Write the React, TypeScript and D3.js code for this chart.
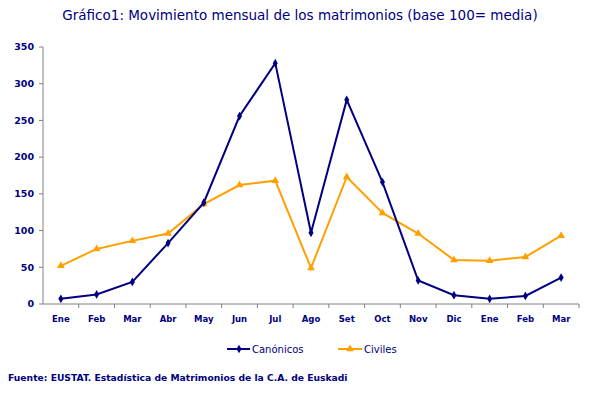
import * as d3 from "d3";

const months = ["Ene", "Feb", "Mar", "Abr", "May", "Jun", "Jul", "Ago", "Set", "Oct", "Nov", "Dic", "Ene", "Feb", "Mar"];
const canonicos = [7, 13, 30, 83, 138, 256, 328, 97, 278, 166, 32, 12, 7, 11, 36];
const civiles = [52, 75, 86, 96, 136, 162, 168, 49, 173, 124, 96, 60, 59, 64, 93];
const yTicks = [0, 50, 100, 150, 200, 250, 300, 350];

const W = 604;
const H = 395;
const MARGIN = { top: 47, right: 25, bottom: 91, left: 43 };
const NAVY = "#000080";
const ORANGE = "#FFA000";
const FONT = "'DejaVu Sans', Verdana, sans-serif";

export default function App() {
  const boundsWidth = W - MARGIN.left - MARGIN.right;
  const boundsHeight = H - MARGIN.top - MARGIN.bottom;

  const idx = months.map((_, i) => String(i));
  const xScale = d3.scaleBand<string>().domain(idx).range([0, boundsWidth]);
  const yScale = d3.scaleLinear().domain([0, 350]).range([boundsHeight, 0]);
  const cx = (i: number) => (xScale(String(i)) || 0) + xScale.bandwidth() / 2;

  const line = d3
    .line<number>()
    .x((_, i) => cx(i))
    .y((d) => yScale(d));

  const diamond = d3.symbol().type(d3.symbolDiamond).size(22)() || "";
  const tri = d3.symbol().type(d3.symbolTriangle).size(26)() || "";

  return (
    <div style={{ position: "fixed", left: 0, top: 0 }}>
      <svg width={W} height={H} style={{ display: "block", background: "#fff" }}>
        <text x={300} y={20} textAnchor="middle" fontFamily={FONT} fontSize={13.5} fill={NAVY}>
          Gráfico1: Movimiento mensual de los matrimonios (base 100= media)
        </text>
        <g transform={`translate(${MARGIN.left},${MARGIN.top})`}>
          {/* y axis */}
          <line x1={0} x2={0} y1={0} y2={boundsHeight} stroke="#808080" />
          {yTicks.map((t) => (
            <g key={t} transform={`translate(0,${yScale(t)})`}>
              <line x1={-4} x2={0} stroke="#808080" />
              <text x={-9} dy="0.35em" textAnchor="end" fontFamily={FONT} fontSize={9.5} fontWeight="bold" fill={NAVY}>
                {t}
              </text>
            </g>
          ))}
          {/* x axis */}
          <line x1={0} x2={boundsWidth} y1={boundsHeight} y2={boundsHeight} stroke="#808080" />
          {months.map((m, i) => (
            <g key={i}>
              <line
                x1={(xScale(String(i)) || 0) + xScale.bandwidth()}
                x2={(xScale(String(i)) || 0) + xScale.bandwidth()}
                y1={boundsHeight}
                y2={boundsHeight + 4}
                stroke="#808080"
              />
              <text x={cx(i)} y={boundsHeight + 18} textAnchor="middle" fontFamily={FONT} fontSize={8.5} fontWeight="bold" fill={NAVY}>
                {m}
              </text>
            </g>
          ))}
          <path d={line(civiles) || ""} fill="none" stroke={ORANGE} strokeWidth={2} />
          {civiles.map((v, i) => (
            <path key={i} d={tri} transform={`translate(${cx(i)},${yScale(v)})`} fill={ORANGE} />
          ))}
          <path d={line(canonicos) || ""} fill="none" stroke={NAVY} strokeWidth={2} />
          {canonicos.map((v, i) => (
            <path key={i} d={diamond} transform={`translate(${cx(i)},${yScale(v)})`} fill={NAVY} />
          ))}
        </g>
        {/* legend */}
        <g transform="translate(0,349)">
          <line x1={227} x2={250} stroke={NAVY} strokeWidth={2} />
          <path d={diamond} transform="translate(239,0)" fill={NAVY} />
          <text x={252} dy="0.35em" fontFamily={FONT} fontSize={10} fill={NAVY}>
            Canónicos
          </text>
          <line x1={338} x2={362} stroke={ORANGE} strokeWidth={2} />
          <path d={tri} transform="translate(350,0)" fill={ORANGE} />
          <text x={364} dy="0.35em" fontFamily={FONT} fontSize={10} fill={NAVY}>
            Civiles
          </text>
        </g>
        <text x={8} y={381} fontFamily={FONT} fontSize={9.2} fontWeight="bold" fill={NAVY}>
          Fuente: EUSTAT. Estadística de Matrimonios de la C.A. de Euskadi
        </text>
      </svg>
    </div>
  );
}
